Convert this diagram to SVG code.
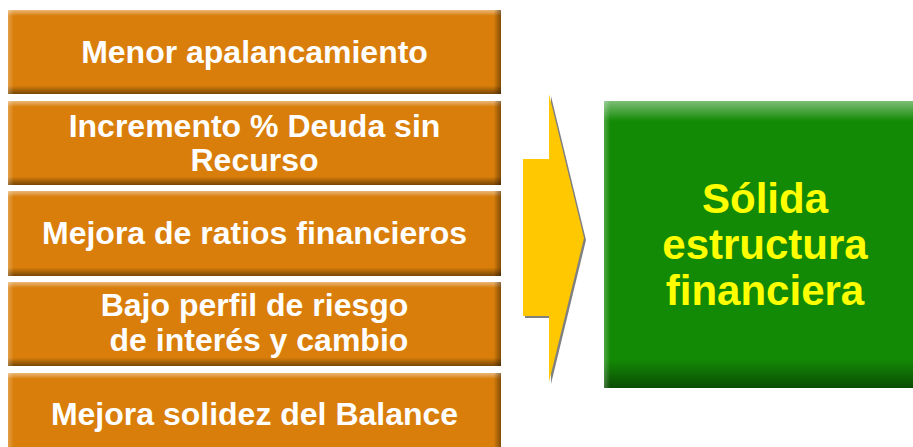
<svg xmlns="http://www.w3.org/2000/svg" width="913" height="447" viewBox="0 0 913 447">
<defs>
<linearGradient id="ov" x1="0" y1="0" x2="0" y2="1">
<stop offset="0" stop-color="#fff" stop-opacity="0.45"/>
<stop offset="0.07" stop-color="#fff" stop-opacity="0"/>
<stop offset="0.9" stop-color="#000" stop-opacity="0"/>
<stop offset="1" stop-color="#000" stop-opacity="0.45"/>
</linearGradient>
<linearGradient id="oh" x1="0" y1="0" x2="1" y2="0">
<stop offset="0" stop-color="#fff" stop-opacity="0.25"/>
<stop offset="0.012" stop-color="#fff" stop-opacity="0"/>
<stop offset="0.985" stop-color="#000" stop-opacity="0"/>
<stop offset="1" stop-color="#000" stop-opacity="0.4"/>
</linearGradient>
<linearGradient id="gv" x1="0" y1="0" x2="0" y2="1">
<stop offset="0" stop-color="#fff" stop-opacity="0.45"/>
<stop offset="0.07" stop-color="#fff" stop-opacity="0"/>
<stop offset="0.9" stop-color="#000" stop-opacity="0"/>
<stop offset="1" stop-color="#000" stop-opacity="0.45"/>
</linearGradient>
<linearGradient id="gh" x1="0" y1="0" x2="1" y2="0">
<stop offset="0" stop-color="#fff" stop-opacity="0.25"/>
<stop offset="0.02" stop-color="#fff" stop-opacity="0"/>
</linearGradient>
</defs>
<style>
.ob{fill:#D97E0A}
.ot{font-family:"Liberation Sans",Arial,sans-serif;font-weight:bold;font-size:32px;fill:#fff;text-anchor:middle}
.gt{font-family:"Liberation Sans",Arial,sans-serif;font-weight:bold;font-size:42px;fill:#FFFF00;text-anchor:middle}
</style>
<g id="n1">
<rect class="ob" x="8" y="10" width="493" height="84"/>
<rect x="8" y="10" width="493" height="84" fill="url(#ov)"/>
<rect x="8" y="10" width="493" height="84" fill="url(#oh)"/>
<text class="ot" x="254.5" y="63">Menor apalancamiento</text>
</g>
<g id="n2">
<rect class="ob" x="8" y="101" width="493" height="84"/>
<rect x="8" y="101" width="493" height="84" fill="url(#ov)"/>
<rect x="8" y="101" width="493" height="84" fill="url(#oh)"/>
<text class="ot" x="254.5" y="137">Incremento % Deuda sin</text>
<text class="ot" x="254.5" y="171">Recurso</text>
</g>
<g id="n3">
<rect class="ob" x="8" y="191" width="493" height="85"/>
<rect x="8" y="191" width="493" height="85" fill="url(#ov)"/>
<rect x="8" y="191" width="493" height="85" fill="url(#oh)"/>
<text class="ot" x="254.5" y="244">Mejora de ratios financieros</text>
</g>
<g id="n4">
<rect class="ob" x="8" y="282" width="493" height="84"/>
<rect x="8" y="282" width="493" height="84" fill="url(#ov)"/>
<rect x="8" y="282" width="493" height="84" fill="url(#oh)"/>
<text class="ot" x="254.5" y="316">Bajo perfil de riesgo</text>
<text class="ot" x="254.5" y="351" xml:space="preserve"> de interés y cambio</text>
</g>
<g id="n5">
<rect class="ob" x="8" y="373" width="493" height="84"/>
<rect x="8" y="373" width="493" height="84" fill="url(#ov)"/>
<rect x="8" y="373" width="493" height="84" fill="url(#oh)"/>
<text class="ot" x="254.5" y="425">Mejora solidez del Balance</text>
</g>
<g id="connectors">
<polygon points="525,161 551,161 551,96 586,240 551,384 551,318 525,318" fill="#808080"/>
<polygon points="523,159 549,159 549,94 584,238 549,382 549,316 523,316" fill="#FFC800"/>
</g>
<g id="n6">
<rect x="604" y="101" width="312" height="287" fill="#138A05"/>
<rect x="604" y="101" width="312" height="287" fill="url(#gv)"/>
<rect x="604" y="101" width="312" height="287" fill="url(#gh)"/>
<text class="gt" x="765" y="213">Sólida</text>
<text class="gt" x="765" y="259">estructura</text>
<text class="gt" x="765" y="305">financiera</text>
</g>
</svg>
